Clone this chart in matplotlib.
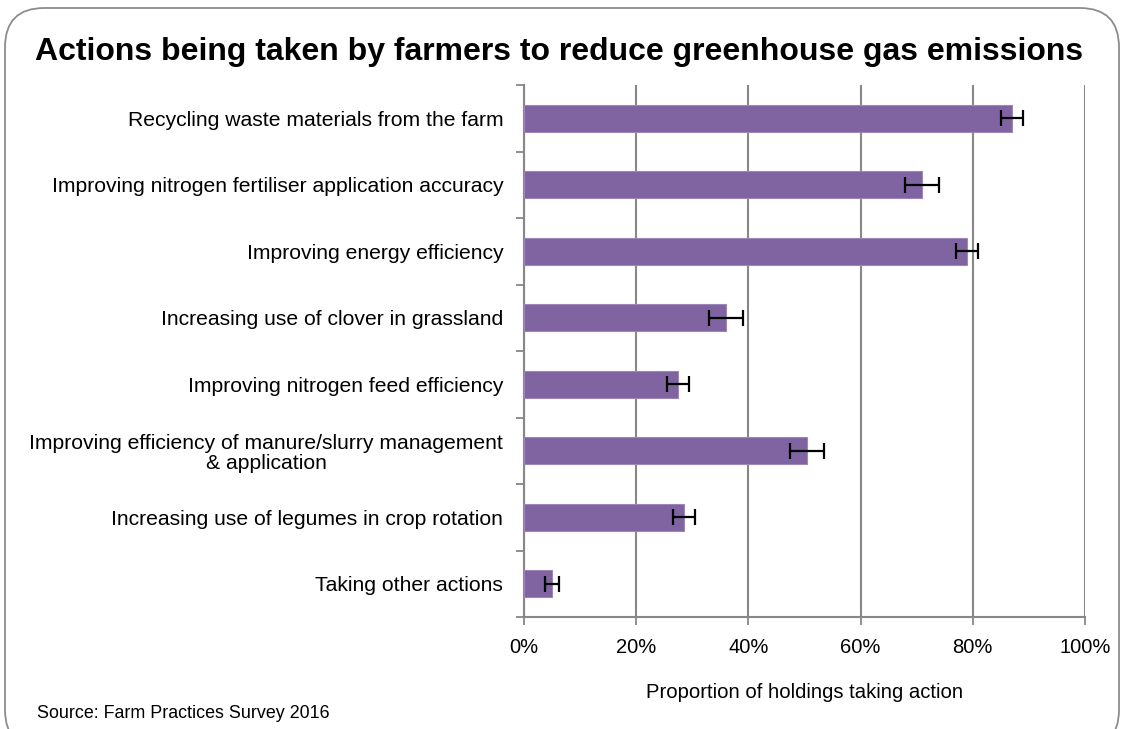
import matplotlib
matplotlib.use("Agg")
import matplotlib.pyplot as plt
from matplotlib.patches import FancyBboxPatch
from matplotlib.ticker import FuncFormatter, MultipleLocator, FixedLocator

plt.rcParams['font.family'] = ['Liberation Sans', 'DejaVu Sans']

categories = [
    "Recycling waste materials from the farm",
    "Improving nitrogen fertiliser application accuracy",
    "Improving energy efficiency",
    "Increasing use of clover in grassland",
    "Improving nitrogen feed efficiency",
    "Improving efficiency of manure/slurry management\n& application",
    "Increasing use of legumes in crop rotation",
    "Taking other actions",
]
values = [87, 71, 79, 36, 27.5, 50.5, 28.5, 5]
errors = [2, 3, 2, 3, 2, 3, 2, 1.2]

title = "Actions being taken by farmers to reduce greenhouse gas emissions"
xlabel = "Proportion of holdings taking action"
source = "Source: Farm Practices Survey 2016"

W, H = 1123, 729
fig = plt.figure(figsize=(W / 100, H / 100), dpi=100)

# rounded border
border = FancyBboxPatch((5 / W, -20 / H), (W - 9) / W, (H + 12) / H,
                        boxstyle="round,pad=0,rounding_size=0.035",
                        transform=fig.transFigure, fill=False,
                        edgecolor="#8c8c8c", linewidth=1.3, mutation_aspect=W / H)
fig.patches.append(border)

left, right, top, bottom = 524, 1085, 85, 617
ax = fig.add_axes([left / W, 1 - bottom / H, (right - left) / W, (bottom - top) / H])

n = len(categories)
ypos = list(range(n))
ax.barh(ypos, values, height=0.4, color="#8064A2", edgecolor="#9c87b8",
        linewidth=0.8, zorder=3)
ax.errorbar(values, ypos, xerr=errors, fmt="none", ecolor="black",
            elinewidth=1.6, capsize=5.5, capthick=1.6, zorder=4)

ax.set_xlim(0, 100)
ax.set_ylim(n - 0.5, -0.5)
ax.xaxis.set_major_locator(MultipleLocator(20))
ax.xaxis.set_major_formatter(FuncFormatter(lambda v, p: f"{int(v)}%"))
ax.grid(axis="x", color="#878787", linewidth=1.5, zorder=0)
ax.set_axisbelow(True)

ax.yaxis.set_major_locator(FixedLocator([i - 0.5 for i in range(n + 1)]))
ax.yaxis.set_major_formatter(FuncFormatter(lambda v, p: ""))
ax.yaxis.set_minor_locator(FixedLocator(ypos))
ax.set_yticklabels(categories, minor=True)
ax.tick_params(axis="y", which="minor", length=0, pad=15, labelsize=15.2)
ax.tick_params(axis="y", which="major", length=6, color="#878787", width=1.3)
ax.tick_params(axis="x", length=6, color="#878787", width=1.3, labelsize=14.5, pad=9)
for lbl in ax.get_yticklabels(minor=True):
    lbl.set_horizontalalignment("right")
    lbl.set_multialignment("center")
    lbl.set_linespacing(1.1)

for s in ["top", "right"]:
    ax.spines[s].set_visible(False)
for s in ["left", "bottom"]:
    ax.spines[s].set_color("#878787")
    ax.spines[s].set_linewidth(1.5)

fig.text(35 / W, 1 - 52 / H, title, fontsize=23.0, fontweight="bold",
         ha="left", va="center")
fig.text(805 / W, 1 - 692 / H, xlabel, fontsize=14.6, ha="center", va="center")
fig.text(37 / W, 1 - 713 / H, source, fontsize=12.9, ha="left", va="center")

fig.savefig("out.png", dpi=100)
